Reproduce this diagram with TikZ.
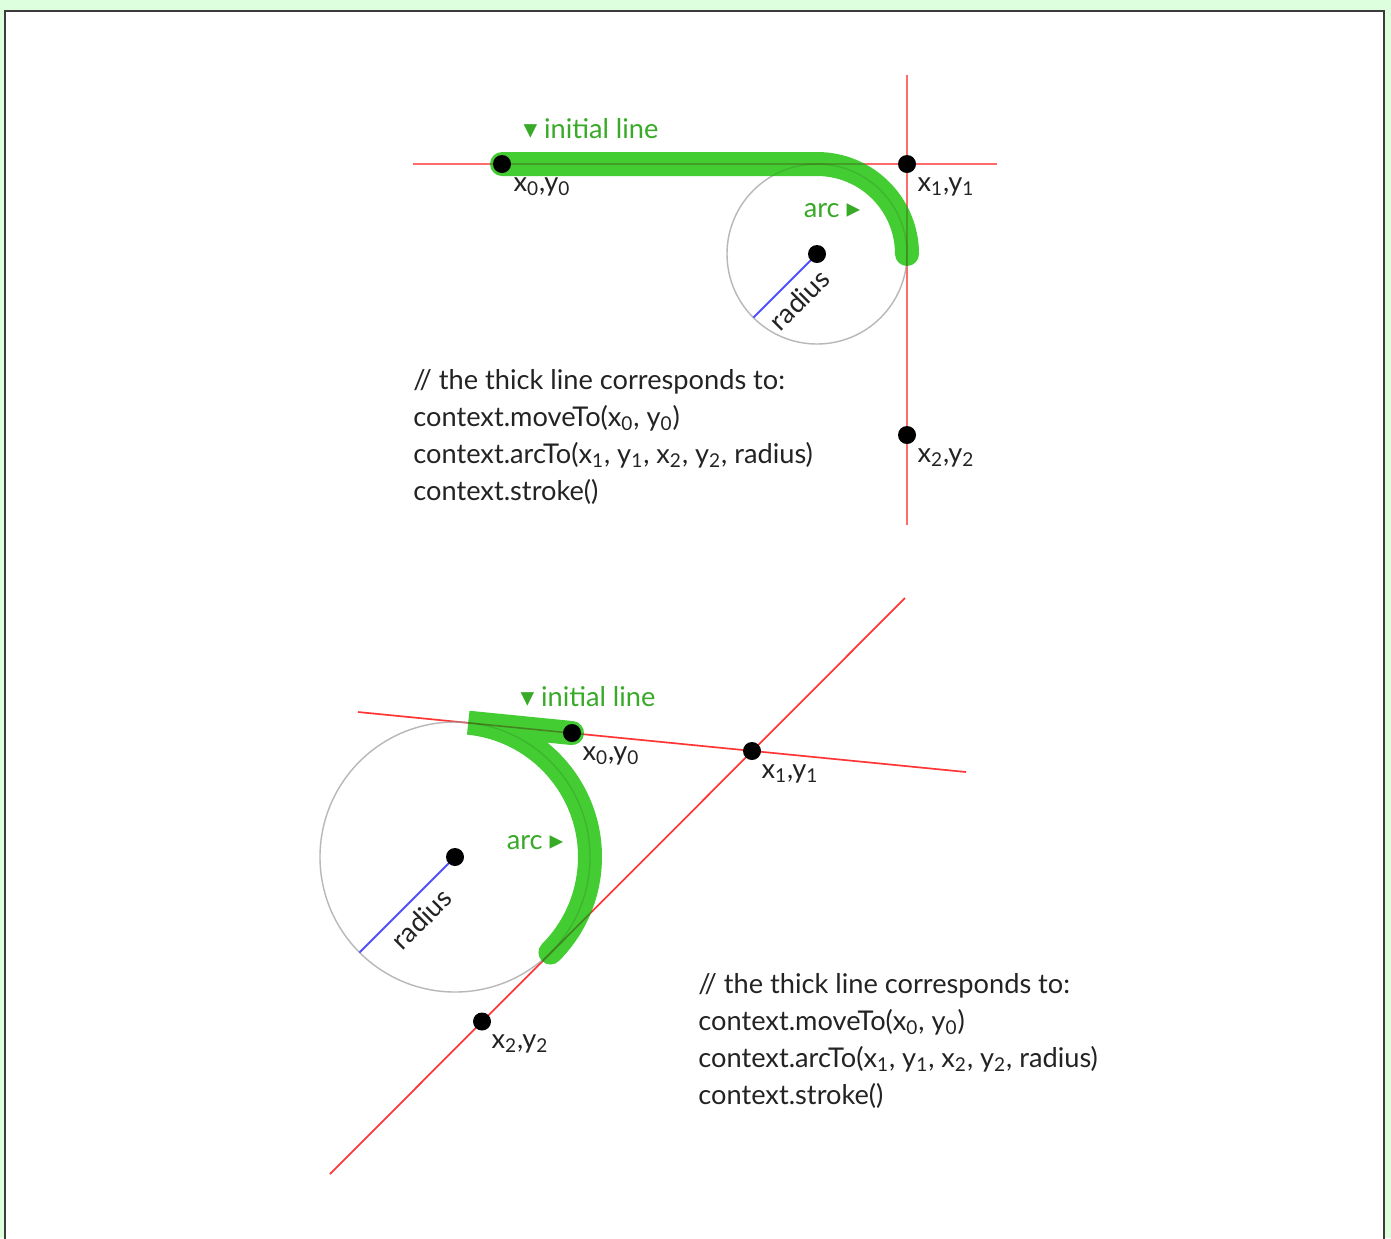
\documentclass[tikz,border=0pt]{standalone}
\usepackage{fontspec}
\setmainfont{Lato}
\newfontfamily\symfont{DejaVu Sans}
\usetikzlibrary{calc}
\definecolor{bggreen}{RGB}{222,255,222}
\definecolor{framegray}{RGB}{60,60,60}
\definecolor{redtop}{RGB}{255,140,140}
\definecolor{redbot}{RGB}{255,80,80}
\definecolor{thickgreen}{RGB}{68,204,51}
\definecolor{labgreen}{RGB}{56,170,40}
\definecolor{circgray}{RGB}{205,205,205}
\definecolor{radblue}{RGB}{80,80,255}
\definecolor{txt}{RGB}{35,35,35}
\begin{document}
\begin{tikzpicture}[x=0.5pt,y=-0.5pt,
  dot/.style={circle,fill=black,inner sep=0pt,minimum size=9pt},
  lab/.style={font=\fontsize{13.6}{16}\selectfont,text=txt,inner sep=0pt},
  codeline/.style={font=\fontsize{13.6}{16}\selectfont,text=txt,inner sep=0pt,anchor=base west},
  glab/.style={font=\fontsize{13.6}{16}\selectfont,text=labgreen,inner sep=0pt},
  band/.style={draw=thickgreen,line width=12pt,line cap=round,line join=bevel},
  guidetop/.style={draw=redtop,line width=1.25pt},
  guidebot/.style={draw=redbot,line width=0.8pt},
  circ/.style={draw=circgray,line width=0.7pt},
  rad/.style={draw=radblue,line width=1pt},
  radlab/.style={font=\fontsize{13.6}{16}\selectfont,text=txt,inner sep=0pt,rotate=45},
  seethrough/.style={blend mode=multiply,opacity=0.5}]
\useasboundingbox (0,0) rectangle (1391,1238);
% background and frame
\fill[bggreen] (0,0) rectangle (1391,1238);
\filldraw[fill=white,draw=framegray,line width=1pt] (5,10.5) rectangle (1383.5,1260);

% ---------- top diagram ----------
\coordinate (P0) at (502,164);
\coordinate (P1) at (907,164);
\coordinate (P2) at (907,435);
\coordinate (C1) at (817,254);
\coordinate (T1) at (817,164);
\coordinate (R1) at (753.4,317.6);
\coordinate (H1a) at (413,164);
\coordinate (H1b) at (997,164);
\coordinate (V1a) at (907,75);
\coordinate (V1b) at (907,525);

\draw[guidetop] (H1a) -- (H1b);
\draw[guidetop] (V1a) -- (V1b);
\draw[circ] (C1) circle[radius=90];
\draw[band] (P0) -- (T1) arc[start angle=-90,end angle=0,radius=90];
\begin{scope}[seethrough]
  \draw[guidetop] (H1a) -- (H1b);
  \draw[guidetop] (V1a) -- (V1b);
  \draw[circ] (C1) circle[radius=90];
\end{scope}
\draw[rad] (C1) -- (R1);
\node[dot] (p0) at (P0) {};
\node[dot] (p1) at (P1) {};
\node[dot] (p2) at (P2) {};
\node[dot] (c1) at (C1) {};

\node[lab] (l0) at (542,187) {x\textsubscript{0},y\textsubscript{0}};
\node[lab] (l1) at (946,187) {x\textsubscript{1},y\textsubscript{1}};
\node[lab] (l2) at (946,458) {x\textsubscript{2},y\textsubscript{2}};
\node[glab] (init1) at (591,129) {{\symfont ▾}\ initial line};
\node[glab] (arc1) at (832,211) {arc\ {\symfont ▸}};
\node[radlab] (rl1) at ($($(C1)!0.5!(R1)$)+(14,14)$) {radius};

\node[codeline] (a1) at (413,389) {// the thick line corresponds to:};
\node[codeline] (a2) at (413,426) {context.moveTo(x\textsubscript{0}, y\textsubscript{0})};
\node[codeline] (a3) at (413,463) {context.arcTo(x\textsubscript{1}, y\textsubscript{1}, x\textsubscript{2}, y\textsubscript{2}, radius)};
\node[codeline] (a4) at (413,500) {context.stroke()};

% ---------- bottom diagram ----------
\coordinate (Q0) at (572,733);
\coordinate (Q1) at (752,751);
\coordinate (Q2) at (482,1021.5);
\coordinate (C2) at (455,857);
\coordinate (S1) at (468.3,722.7);
\coordinate (R2) at (359.5,952.5);
\coordinate (L1a) at (358,712);
\coordinate (L1b) at (966,772);
\coordinate (L2a) at (330,1174);
\coordinate (L2b) at (905,598);

\draw[guidebot] (L1a) -- (L1b);
\draw[guidebot] (L2a) -- (L2b);
\draw[circ] (C2) circle[radius=135];
\draw[band] (Q0) -- (S1) arc[start angle=-84.34,end angle=45,radius=135];
\begin{scope}[seethrough]
  \draw[guidebot] (L1a) -- (L1b);
  \draw[guidebot] (L2a) -- (L2b);
  \draw[circ] (C2) circle[radius=135];
\end{scope}
\draw[rad] (C2) -- (R2);
\node[dot] (q0) at (Q0) {};
\node[dot] (q1) at (Q1) {};
\node[dot] (q2) at (Q2) {};
\node[dot] (c2) at (C2) {};

\node[lab] (m0) at (611,756) {x\textsubscript{0},y\textsubscript{0}};
\node[lab] (m1) at (790,774) {x\textsubscript{1},y\textsubscript{1}};
\node[lab] (m2) at (520,1044) {x\textsubscript{2},y\textsubscript{2}};
\node[glab] (init2) at (588,697) {{\symfont ▾}\ initial line};
\node[glab] (arc2) at (535,843) {arc\ {\symfont ▸}};
\node[radlab] (rl2) at ($($(C2)!0.5!(R2)$)+(14,14)$) {radius};

\node[codeline] (b1) at (698,993) {// the thick line corresponds to:};
\node[codeline] (b2) at (698,1030) {context.moveTo(x\textsubscript{0}, y\textsubscript{0})};
\node[codeline] (b3) at (698,1067) {context.arcTo(x\textsubscript{1}, y\textsubscript{1}, x\textsubscript{2}, y\textsubscript{2}, radius)};
\node[codeline] (b4) at (698,1104) {context.stroke()};
\end{tikzpicture}
\end{document}
